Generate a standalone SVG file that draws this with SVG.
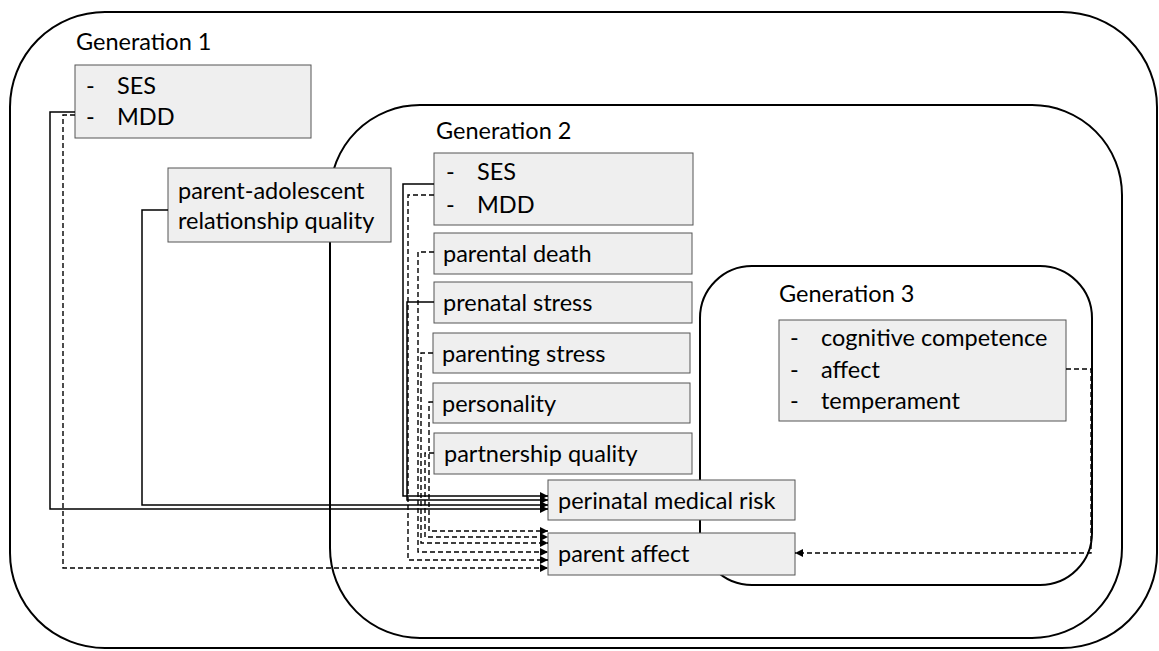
<svg xmlns="http://www.w3.org/2000/svg" width="1159" height="651" viewBox="0 0 1159 651">
<defs>
<marker id="ah" markerUnits="userSpaceOnUse" markerWidth="9" markerHeight="9" refX="8" refY="4.5" orient="auto">
<path d="M0,0.5 L8,4.5 L0,8.5 Z" fill="#000"/>
</marker>
<style>
.gen{fill:none;stroke:#000;stroke-width:2}
.box{fill:#efefef;stroke:#555;stroke-width:1}
.t{font-family:Lato,"Open Sans",sans-serif;font-size:23.5px;fill:#000}
.s{fill:none;stroke:#000;stroke-width:1.5}
.d{fill:none;stroke:#000;stroke-width:1.4;stroke-dasharray:5,3}
</style>
</defs>
<rect width="1159" height="651" fill="#fff"/>
<g id="gen1">
<rect class="gen" x="10" y="12" width="1147" height="636" rx="95" ry="95"/>
<text class="t" x="76" y="50">Generation 1</text>
</g>
<g id="gen2">
<rect class="gen" x="330" y="105" width="792" height="533" rx="90" ry="90"/>
<text class="t" x="436" y="139">Generation 2</text>
</g>
<g id="gen3">
<rect class="gen" x="700" y="266" width="392" height="319" rx="52" ry="52"/>
<text class="t" x="779" y="302">Generation 3</text>
</g>
<g id="g1-ses-mdd">
<rect class="box" x="75" y="65" width="236" height="73"/>
<text class="t" x="86" y="94">-</text><text class="t" x="117" y="94">SES</text>
<text class="t" x="86" y="125">-</text><text class="t" x="117" y="125">MDD</text>
</g>
<g id="parent-adolescent">
<rect class="box" x="168" y="168" width="223" height="74"/>
<text class="t" x="178" y="199">parent-adolescent</text>
<text class="t" x="178" y="229">relationship quality</text>
</g>
<g id="g2-ses-mdd">
<rect class="box" x="434" y="153" width="259" height="72"/>
<text class="t" x="446" y="180">-</text><text class="t" x="477" y="180">SES</text>
<text class="t" x="446" y="213">-</text><text class="t" x="477" y="213">MDD</text>
</g>
<g id="parental-death">
<rect class="box" x="434" y="233" width="258" height="41"/>
<text class="t" x="443" y="262">parental death</text>
</g>
<g id="prenatal-stress">
<rect class="box" x="434" y="282" width="258" height="41"/>
<text class="t" x="443" y="311">prenatal stress</text>
</g>
<g id="parenting-stress">
<rect class="box" x="433" y="333" width="257" height="40"/>
<text class="t" x="442" y="362">parenting stress</text>
</g>
<g id="personality">
<rect class="box" x="433" y="383" width="257" height="40"/>
<text class="t" x="442" y="412">personality</text>
</g>
<g id="partnership-quality">
<rect class="box" x="434" y="433" width="258" height="41"/>
<text class="t" x="444" y="462">partnership quality</text>
</g>
<g id="perinatal-medical-risk">
<rect class="box" x="548" y="480" width="247" height="40"/>
<text class="t" x="558" y="509">perinatal medical risk</text>
</g>
<g id="parent-affect">
<rect class="box" x="548" y="533" width="247" height="42"/>
<text class="t" x="558" y="562">parent affect</text>
</g>
<g id="g3-box">
<rect class="box" x="779" y="320" width="287" height="101"/>
<text class="t" x="790" y="346">-</text><text class="t" x="821" y="346">cognitive competence</text>
<text class="t" x="790" y="378">-</text><text class="t" x="821" y="378">affect</text>
<text class="t" x="790" y="409">-</text><text class="t" x="821" y="409">temperament</text>
</g>
<g id="connectors">
<path class="s" d="M434,184 H403 V496 H548" marker-end="url(#ah)"/>
<path class="s" d="M434,302 H407 V500 H548" marker-end="url(#ah)"/>
<path class="s" d="M168,210 H142 V505 H548" marker-end="url(#ah)"/>
<path class="s" d="M75,112 H50 V509 H548" marker-end="url(#ah)"/>
<path class="d" d="M433,402 H429 V531 H548" marker-end="url(#ah)"/>
<path class="d" d="M434,453 H425 V537 H548" marker-end="url(#ah)"/>
<path class="d" d="M433,353 H421 V543 H548" marker-end="url(#ah)"/>
<path class="d" d="M434,252 H418 V552 H548" marker-end="url(#ah)"/>
<path class="d" d="M434,195 H408 V560 H548" marker-end="url(#ah)"/>
<path class="d" d="M75,115 H63 V568 H548" marker-end="url(#ah)"/>
<path class="d" d="M1066,369 H1091 V553 H795" marker-end="url(#ah)"/>
</g>
</svg>
